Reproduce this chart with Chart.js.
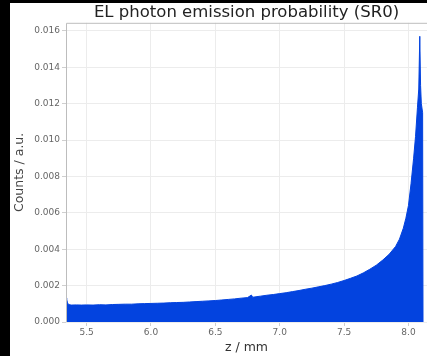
<!DOCTYPE html>
<html>
<head>
<meta charset="utf-8">
<script src="https://cdn.jsdelivr.net/npm/chart.js@4/dist/chart.umd.min.js"></script>
<style>
  html, body { margin: 0; padding: 0; background: #000; width: 427px; height: 356px; overflow: hidden; }
  #panel { position: absolute; left: 10px; top: 3px; width: 417px; height: 353px; background: #fff; }
  canvas { display: block; }
</style>
</head>
<body>
<div id="panel"><canvas id="c" width="417" height="353"></canvas></div>
<script>
const chartTitle = "EL photon emission probability (SR0)";
const xTitle = "z / mm";
const yTitle = "Counts / a.u.";
const xTicks = [5.5, 6.0, 6.5, 7.0, 7.5, 8.0];
const yTicks = [0.000, 0.002, 0.004, 0.006, 0.008, 0.010, 0.012, 0.014, 0.016];

const zValues = [5.340, 5.345, 5.352, 5.360, 5.380, 5.420, 5.460, 5.500, 5.550, 5.600,
  5.650, 5.700, 5.750, 5.800, 5.850, 5.900, 5.950, 6.000, 6.050, 6.100,
  6.150, 6.200, 6.250, 6.300, 6.350, 6.400, 6.450, 6.500, 6.550, 6.600,
  6.650, 6.700, 6.750, 6.780, 6.790, 6.850, 6.900, 6.950, 7.000, 7.050,
  7.100, 7.150, 7.200, 7.250, 7.300, 7.350, 7.400, 7.450, 7.500, 7.550,
  7.600, 7.650, 7.700, 7.750, 7.800, 7.850, 7.900, 7.930, 7.960, 7.980,
  8.000, 8.020, 8.040, 8.055, 8.070, 8.080, 8.088, 8.094, 8.100, 8.110, 8.113];
const counts = [0.00132, 0.00125, 0.00105, 0.00096, 0.00093, 0.00094, 0.00093, 0.00094, 0.00093, 0.00095,
  0.00094, 0.00096, 0.00097, 0.00098, 0.00098, 0.00100, 0.00101, 0.00102, 0.00103, 0.00104,
  0.00106, 0.00107, 0.00108, 0.00110, 0.00112, 0.00114, 0.00116, 0.00118, 0.00121, 0.00124,
  0.00127, 0.00131, 0.00134, 0.00148, 0.00136, 0.00142, 0.00147, 0.00151, 0.00156, 0.00161,
  0.00167, 0.00173, 0.00180, 0.00186, 0.00193, 0.00200, 0.00208, 0.00217, 0.00228, 0.00240,
  0.00253, 0.00270, 0.00290, 0.00312, 0.00340, 0.00372, 0.00415, 0.00455, 0.00515, 0.00570,
  0.00640, 0.00760, 0.00900, 0.01020, 0.01180, 0.01280, 0.01570, 0.01300, 0.01200, 0.01150, 0.00000];

const points = zValues.map((z, i) => ({ x: z, y: counts[i] }));

const frame = {
  id: 'frame',
  afterDatasetsDraw(chart) {
    const a = chart.chartArea, ctx = chart.ctx;
    ctx.save();
    ctx.strokeStyle = '#bdbdbd';
    ctx.lineWidth = 1;
    ctx.beginPath();
    ctx.moveTo(a.left + 0.5, a.bottom);
    ctx.lineTo(a.left + 0.5, a.top + 0.5);
    ctx.lineTo(a.right, a.top + 0.5);
    ctx.stroke();
    ctx.restore();
  }
};

new Chart(document.getElementById('c'), {
  type: 'line',
  data: {
    datasets: [{
      data: points,
      borderColor: '#0343df',
      backgroundColor: '#0343df',
      borderWidth: 1,
      fill: 'origin',
      pointRadius: 0,
      tension: 0
    }]
  },
  options: {
    responsive: false,
    animation: false,
    layout: { padding: 0 },
    plugins: {
      legend: { display: false },
      tooltip: { enabled: false },
      title: {
        display: true,
        fullSize: false,
        text: chartTitle,
        color: '#222',
        font: { family: 'DejaVu Sans', size: 16.5, weight: 'normal' },
        padding: { top: 0, bottom: 0 }
      }
    },
    scales: {
      x: {
        type: 'linear',
        min: 5.34,
        max: 8.144,
        afterBuildTicks: s => { s.ticks = xTicks.map(v => ({ value: v })); },
        afterFit: s => { s.height = 34; },
        ticks: {
          callback: v => Number(v).toFixed(1),
          color: '#666',
          font: { family: 'DejaVu Sans', size: 9 },
          padding: 1,
          maxRotation: 0,
          autoSkip: false
        },
        grid: { color: '#ececec', tickColor: '#cfcfcf', tickLength: 4 },
        border: { display: false },
        title: {
          display: true,
          text: xTitle,
          color: '#333',
          font: { family: 'DejaVu Sans', size: 12.5 },
          padding: { top: 0, bottom: 1 }
        }
      },
      y: {
        min: 0,
        max: 0.01644,
        afterBuildTicks: s => { s.ticks = yTicks.map(v => ({ value: v })); },
        afterFit: s => { s.width = 56; },
        ticks: {
          callback: v => Number(v).toFixed(3),
          color: '#666',
          font: { family: 'DejaVu Sans', size: 9 },
          padding: 2,
          autoSkip: false
        },
        grid: { color: '#ececec', tickColor: '#cfcfcf', tickLength: 4 },
        border: { display: false },
        title: {
          display: true,
          text: yTitle,
          color: '#444',
          font: { family: 'DejaVu Sans', size: 12.5 },
          padding: { top: 2, bottom: 2 }
        }
      }
    }
  },
  plugins: [frame]
});
</script>
</body>
</html>
